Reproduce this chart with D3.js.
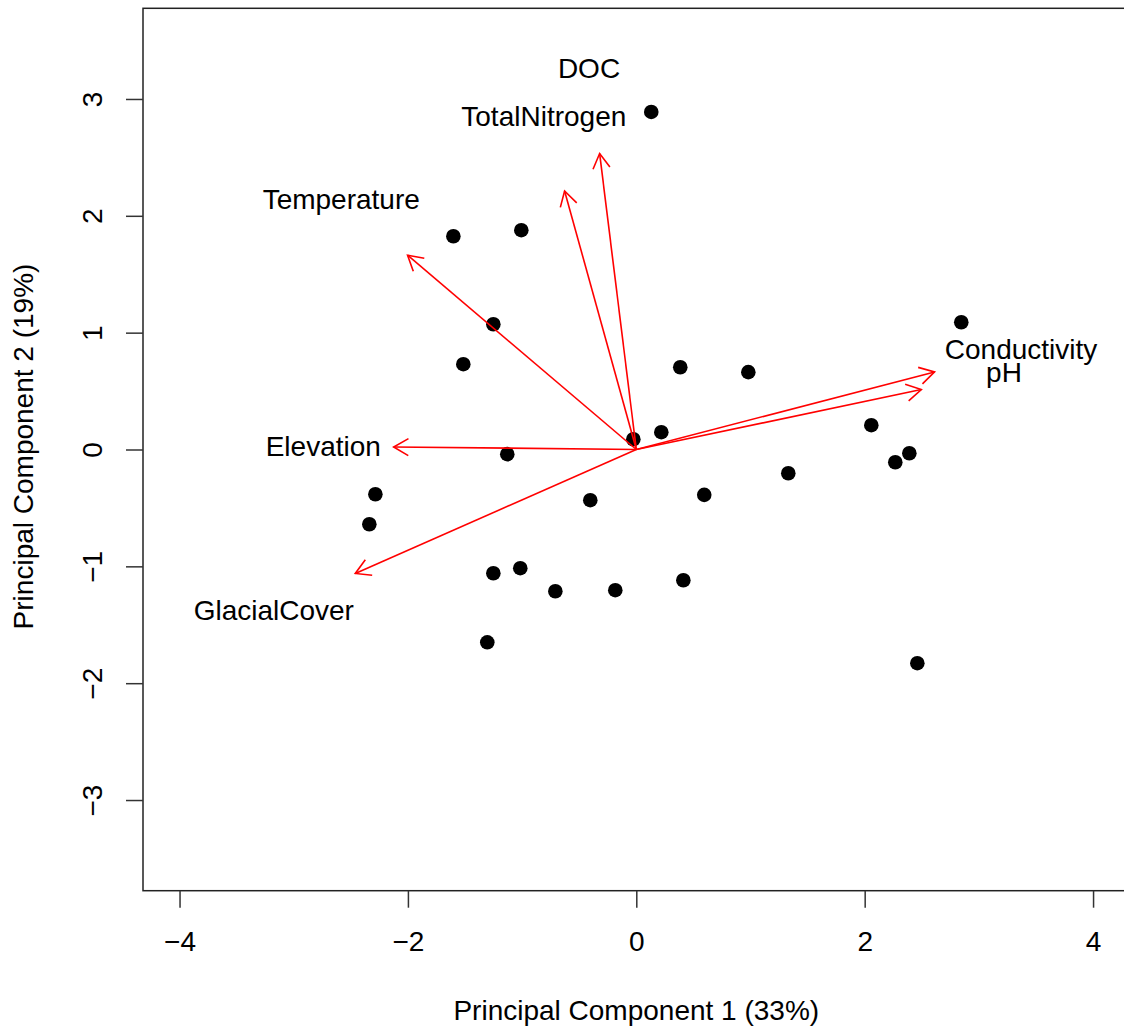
<!DOCTYPE html>
<html>
<head>
<meta charset="utf-8">
<script src="https://cdn.jsdelivr.net/npm/d3@7"></script>
<style>
  html, body { margin: 0; padding: 0; background: #fff; }
  svg text { font-family: "Liberation Sans", Arial, sans-serif; fill: #000; }
</style>
</head>
<body>
<div id="chart"></div>
<script>
// site scores on the first two components
const pc1 = [0.131, -1.602, -1.007, -1.252, -1.515, 0.385, 0.981, -0.026, 0.219, -1.130,
  2.846, 2.058, 2.391, 2.268, 1.331, -2.285, -2.338, -0.403, -1.252, -1.016,
  -0.709, -0.184, -1.305, 0.595, 0.412, 2.461];
const pc2 = [2.889, 1.825, 1.877, 1.072, 0.730, 0.704, 0.662, 0.088, 0.148, -0.040,
  1.089, 0.208, -0.032, -0.109, -0.203, -0.383, -0.640, -0.434, -1.059, -1.016,
  -1.213, -1.204, -1.650, -0.388, -1.119, -1.829];

// variable loadings (arrow tips)
const variables = ["DOC", "TotalNitrogen", "Temperature", "Elevation", "GlacialCover", "Conductivity", "pH"];
const loadX = [-0.321, -0.628, -2.003, -2.125, -2.461, 2.612, 2.496];
const loadY = [2.533, 2.213, 1.663, 0.022, -1.061, 0.664, 0.513];

const xTicks = [-4, -2, 0, 2, 4];
const yTicks = [-3, -2, -1, 0, 1, 2, 3];
const xTitle = "Principal Component 1 (33%)";
const yTitle = "Principal Component 2 (19%)";

const width = 1124;
const height = 1030;
const labelScale = 1.29;

const svg = d3.select("#chart")
  .append("svg")
  .attr("width", width)
  .attr("height", height);

const x = d3.scaleLinear().domain([-4.32, 4.32]).range([143, 1129.6]);
const y = d3.scaleLinear().domain([-3.776, 3.776]).range([890.7, 8.3]);

// plot frame
svg.append("rect")
  .attr("x", x.range()[0])
  .attr("y", y.range()[1])
  .attr("width", x.range()[1] - x.range()[0])
  .attr("height", y.range()[0] - y.range()[1])
  .attr("fill", "none")
  .attr("stroke", "#222")
  .attr("stroke-width", 1.5);

// x axis
const xAxis = svg.append("g")
  .attr("transform", `translate(0,${y.range()[0]})`)
  .call(d3.axisBottom(x).tickValues(xTicks).tickSize(17).tickPadding(23).tickSizeOuter(0));
xAxis.select(".domain").remove();
xAxis.selectAll("line").attr("stroke", "#333").attr("stroke-width", 1.5);
xAxis.selectAll("text")
  .style("font-size", "28px")
  .style("font-family", "Liberation Sans, Arial, sans-serif")
  .attr("fill", "#000");

// y axis (labels parallel to the axis, as in R)
const yAxis = svg.append("g")
  .attr("transform", `translate(${x.range()[0]},0)`)
  .call(d3.axisLeft(y).tickValues(yTicks).tickSize(17).tickSizeOuter(0));
yAxis.select(".domain").remove();
yAxis.selectAll("line").attr("stroke", "#333").attr("stroke-width", 1.5);
yAxis.selectAll("text")
  .attr("x", null).attr("dy", null)
  .attr("text-anchor", "middle")
  .attr("transform", "translate(-41,0) rotate(-90)")
  .style("font-size", "28px")
  .style("font-family", "Liberation Sans, Arial, sans-serif")
  .attr("fill", "#000");

// axis titles
svg.append("text")
  .attr("x", (x.range()[0] + x.range()[1]) / 2)
  .attr("y", 1020)
  .attr("text-anchor", "middle")
  .style("font-size", "28px")
  .text(xTitle);

svg.append("text")
  .attr("transform", `translate(33,${(y.range()[0] + y.range()[1]) / 2 - 3}) rotate(-90)`)
  .attr("text-anchor", "middle")
  .style("font-size", "28px")
  .text(yTitle);

// points
svg.append("g")
  .selectAll("circle")
  .data(pc1.map((v, i) => [v, pc2[i]]))
  .join("circle")
  .attr("cx", d => x(d[0]))
  .attr("cy", d => y(d[1]))
  .attr("r", 7.3)
  .attr("fill", "#000");

// loading arrows
const arrows = variables.map((name, i) => ({ name, lx: loadX[i], ly: loadY[i] }));
const headLen = 17;
const headAngle = Math.PI / 6;

const arrowG = svg.append("g")
  .attr("fill", "none")
  .attr("stroke", "#ff0000")
  .attr("stroke-width", 1.6);

arrowG.selectAll("line")
  .data(arrows)
  .join("line")
  .attr("x1", x(0))
  .attr("y1", y(0))
  .attr("x2", d => x(d.lx))
  .attr("y2", d => y(d.ly));

arrowG.selectAll("path")
  .data(arrows)
  .join("path")
  .attr("d", d => {
    const tx = x(d.lx), ty = y(d.ly);
    const a = Math.atan2(ty - y(0), tx - x(0));
    const p1 = [tx - headLen * Math.cos(a - headAngle), ty - headLen * Math.sin(a - headAngle)];
    const p2 = [tx - headLen * Math.cos(a + headAngle), ty - headLen * Math.sin(a + headAngle)];
    return `M${p1[0]},${p1[1]}L${tx},${ty}L${p2[0]},${p2[1]}`;
  });

// variable labels
svg.append("g")
  .selectAll("text")
  .data(arrows)
  .join("text")
  .attr("x", d => x(d.lx * labelScale))
  .attr("y", d => y(d.ly * labelScale))
  .attr("dy", "0.36em")
  .attr("text-anchor", "middle")
  .style("font-size", "28px")
  .text(d => d.name);
</script>
</body>
</html>
